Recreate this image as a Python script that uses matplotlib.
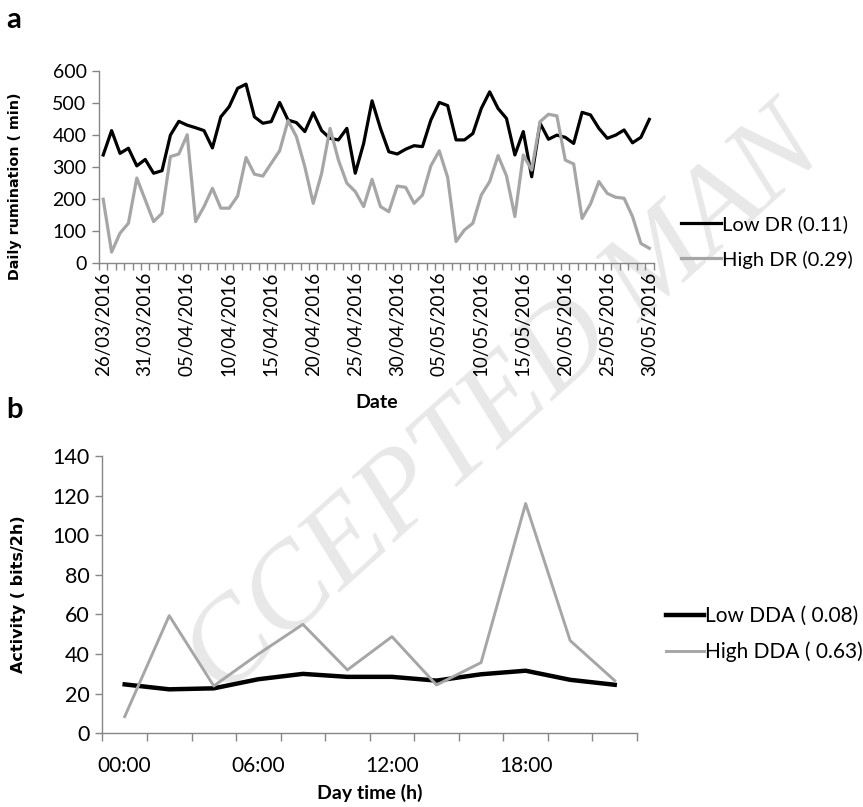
import numpy as np
import matplotlib
matplotlib.use("Agg")
import matplotlib.pyplot as plt

# panel a: daily rumination, 26/03/2016 .. 30/05/2016
dates = [f"{d:02d}/03/2016" for d in range(26, 32)] + \
        [f"{d:02d}/04/2016" for d in range(1, 31)] + \
        [f"{d:02d}/05/2016" for d in range(1, 31)]
low_dr = [338, 414, 343, 359, 304, 324, 281, 289, 400, 443,
          431, 423, 414, 360, 457, 489, 546, 559, 457, 437,
          442, 502, 447, 439, 411, 470, 414, 390, 385, 421,
          281, 374, 507, 421, 348, 341, 356, 367, 364, 447,
          502, 492, 385, 385, 405, 483, 535, 483, 452, 338,
          411, 270, 437, 387, 400, 393, 374, 471, 463, 421,
          390, 400, 416, 376, 393, 449]
high_dr = [200, 35, 94, 125, 266, 198, 130, 156, 333, 341,
           401, 130, 177, 234, 172, 172, 210, 330, 278, 272,
           312, 351, 445, 395, 301, 187, 281, 421, 322, 250,
           224, 177, 262, 177, 161, 241, 237, 187, 213, 304,
           351, 268, 68, 104, 125, 213, 255, 336, 273, 146,
           338, 291, 442, 465, 460, 322, 310, 140, 185, 255,
           218, 206, 203, 146, 62, 47]

# panel b: activity per 2h
hours = [f"{h:02d}:00" for h in range(0, 24, 2)]
low_dda = [24.7, 22.2, 22.7, 27.3, 30.0, 28.5, 28.5, 26.6, 29.8, 31.6, 27.0, 24.5]
high_dda = [8.4, 59.4, 23.9, 40.0, 55.0, 32.0, 48.8, 24.4, 35.7, 116.0, 46.8, 26.6]

W, H = 863, 807
BLACK = "#000000"
GREY = "#a6a6a6"
AXIS = "#868686"

plt.rcParams["font.family"] = ["Lato", "DejaVu Sans"]

fig = plt.figure(figsize=(W / 100, H / 100), dpi=100)


def px_axes(x0, y0, x1, y1):
    # pixel box (top-left origin) -> figure fraction axes
    return fig.add_axes([x0 / W, 1 - y1 / H, (x1 - x0) / W, (y1 - y0) / H])


def style(ax, ysize):
    ax.set_facecolor("none")
    for s in ("top", "right"):
        ax.spines[s].set_visible(False)
    for s in ("left", "bottom"):
        ax.spines[s].set_color(AXIS)
        ax.spines[s].set_linewidth(1.0)
    ax.tick_params(axis="y", length=5, width=1, color=AXIS, labelsize=ysize, pad=4)


# watermark (visible part only)
fig.text(505 / W, 1 - 405 / H, "CCEPTED MAN", fontsize=86,
         family="Liberation Serif", style="italic", color="#e8e8e8",
         rotation=42, ha="center", va="center", rotation_mode="anchor", zorder=-5)

# ---- panel a
ax1 = px_axes(99, 71, 653.5, 263.3)
style(ax1, 14)
x1 = np.arange(len(dates))
ax1.plot(x1, low_dr, color=BLACK, lw=2.3, label="Low DR (0.11)")
ax1.plot(x1, high_dr, color=GREY, lw=2.3, label="High DR (0.29)")
ax1.set_xlim(-0.5, len(dates) - 0.5)
ax1.set_ylim(0, 600)
ax1.set_yticks(range(0, 601, 100))
ax1.set_xticks(x1[::5])
ax1.set_xticklabels(dates[::5], rotation=90, fontsize=13.5)
ax1.tick_params(axis="x", length=0, pad=6)
ax1.set_xticks(np.arange(-0.5, len(dates)), minor=True)
ax1.tick_params(axis="x", which="minor", length=5, width=1, color=AXIS)
ax1.set_ylabel("Daily rumination ( min)", family="DejaVu Sans", fontweight="bold",
               fontsize=10.3)
ax1.yaxis.set_label_coords(-0.139, 0.4)
ax1.set_xlabel("Date", fontweight="bold", fontsize=14)
ax1.xaxis.set_label_coords(0.5, -0.68)
ax1.legend(loc="center left", bbox_to_anchor=(681 / W, 1 - 242 / H),
           bbox_transform=fig.transFigure, frameon=False, fontsize=14.5,
           handlelength=2.0, handletextpad=0.05, labelspacing=0.85,
           borderpad=0, borderaxespad=0)

# ---- panel b
ax2 = px_axes(102.4, 456, 637, 733.3)
style(ax2, 15.5)
x2 = np.arange(len(hours))
ax2.plot(x2, low_dda, color=BLACK, lw=3.2, label="Low DDA ( 0.08)")
ax2.plot(x2, high_dda, color=GREY, lw=2.1, label="High DDA ( 0.63)")
ax2.set_xlim(-0.5, len(hours) - 0.5)
ax2.set_ylim(0, 140)
ax2.set_yticks(range(0, 141, 20))
ax2.set_xticks(x2[::3])
ax2.set_xticklabels(hours[::3], fontsize=15)
ax2.tick_params(axis="x", length=0, pad=16)
ax2.set_xticks(np.arange(-0.5, len(hours)), minor=True)
ax2.tick_params(axis="x", which="minor", length=6, width=1, color=AXIS)
ax2.set_ylabel("Activity ( bits/2h)", family="DejaVu Sans", fontweight="bold",
               fontsize=11.5)
ax2.yaxis.set_label_coords(-0.143, 0.5)
ax2.set_xlabel("Day time (h)", fontweight="bold", fontsize=14)
ax2.xaxis.set_label_coords(0.5, -0.183)
ax2.legend(loc="center left", bbox_to_anchor=(666 / W, 1 - 634 / H),
           bbox_transform=fig.transFigure, frameon=False, fontsize=15,
           handlelength=1.8, handletextpad=0.05, labelspacing=0.75,
           borderpad=0, borderaxespad=0)

# panel letters
fig.text(6 / W, 1 - 20 / H, "a", fontsize=21, fontweight="bold", va="center")
fig.text(6 / W, 1 - 410 / H, "b", fontsize=21, fontweight="bold", va="center")

fig.savefig("out.png", dpi=100, facecolor="white")
